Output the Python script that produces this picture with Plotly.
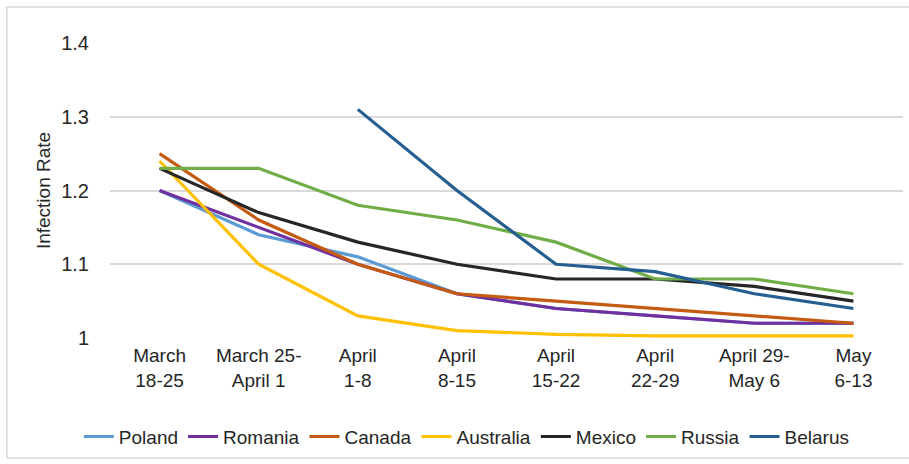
import plotly.graph_objects as go

categories = ["March<br>18-25", "March 25-<br>April 1", "April<br>1-8", "April<br>8-15",
              "April<br>15-22", "April<br>22-29", "April 29-<br>May 6", "May<br>6-13"]

poland = [1.20, 1.14, 1.11, 1.06, 1.04, 1.03, 1.02, 1.02]
romania = [1.20, 1.15, 1.10, 1.06, 1.04, 1.03, 1.02, 1.02]
canada = [1.25, 1.16, 1.10, 1.06, 1.05, 1.04, 1.03, 1.02]
australia = [1.24, 1.10, 1.03, 1.01, 1.005, 1.003, 1.003, 1.003]
mexico = [1.23, 1.17, 1.13, 1.10, 1.08, 1.08, 1.07, 1.05]
russia = [1.23, 1.23, 1.18, 1.16, 1.13, 1.08, 1.08, 1.06]
belarus = [None, None, 1.31, 1.20, 1.10, 1.09, 1.06, 1.04]

y_ticks = [1, 1.1, 1.2, 1.3, 1.4]
y_ticktext = ["1", "1.1", "1.2", "1.3", "1.4"]

series = [
    ("Poland", poland, "#5B9BD5"),
    ("Romania", romania, "#7030A0"),
    ("Canada", canada, "#C55A11"),
    ("Australia", australia, "#FFC000"),
    ("Mexico", mexico, "#262626"),
    ("Russia", russia, "#70AD47"),
    ("Belarus", belarus, "#255E91"),
]

FONT = "Liberation Sans Narrow, Arial Narrow, Liberation Sans, sans-serif"
TXT = "#262626"

fig = go.Figure()
for name, vals, color in series:
    fig.add_trace(go.Scatter(
        x=categories, y=vals, name=name, mode="lines",
        line=dict(color=color, width=3.2),
    ))

fig.update_layout(
    width=909, height=464,
    paper_bgcolor="white", plot_bgcolor="white",
    margin=dict(l=110, r=6, t=43, b=126),
    font=dict(family=FONT, size=19, color=TXT),
    showlegend=True,
    legend=dict(orientation="h", x=0.45, xanchor="center", y=-0.27, yanchor="top",
                font=dict(family=FONT, size=19, color=TXT),
                itemwidth=30, tracegroupgap=0, traceorder="normal"),
    xaxis=dict(showgrid=False, showline=False, zeroline=False, ticks="",
               ticklabelstandoff=4,
               tickfont=dict(family=FONT, size=19, color=TXT),
               range=[-0.5, 7.5]),
    yaxis=dict(range=[1, 1.4], tickvals=y_ticks, ticktext=y_ticktext,
               showgrid=True, gridcolor="#D9D9D9", gridwidth=1.5,
               zeroline=False, showline=False, ticks="",
               ticklabelstandoff=20,
               tickfont=dict(family=FONT, size=20, color=TXT),
               title=dict(text="Infection Rate", standoff=5,
                          font=dict(family=FONT, size=19, color=TXT))),
    shapes=[dict(type="rect", xref="paper", yref="paper",
                 x0=-0.13, x1=1.012, y0=-0.407, y1=1.122,
                 line=dict(color="#D9D9D9", width=1.5), fillcolor="rgba(0,0,0,0)",
                 layer="below")],
)

fig.write_html("out.html")
